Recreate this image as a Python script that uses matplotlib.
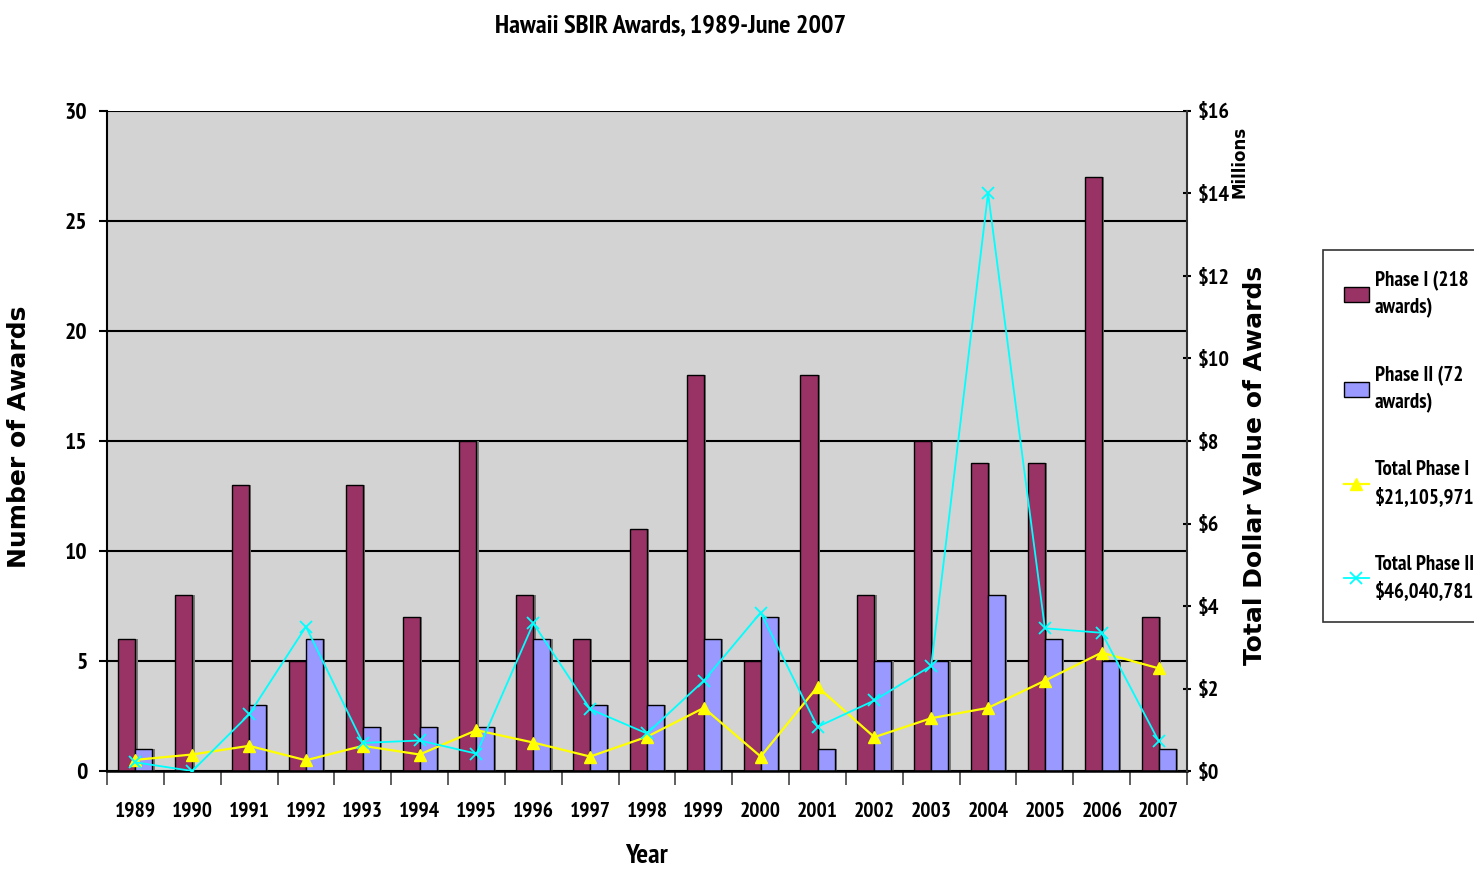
import matplotlib
matplotlib.use("Agg")
import matplotlib.pyplot as plt
import numpy as np
from matplotlib import font_manager

years = ["1989", "1990", "1991", "1992", "1993", "1994", "1995", "1996", "1997", "1998",
         "1999", "2000", "2001", "2002", "2003", "2004", "2005", "2006", "2007"]
phase1_awards = [6, 8, 13, 5, 13, 7, 15, 8, 6, 11, 18, 5, 18, 8, 15, 14, 14, 27, 7]
phase2_awards = [1, 0, 3, 6, 2, 2, 2, 6, 3, 3, 6, 7, 1, 5, 5, 8, 6, 5, 1]
phase1_dollars_m = [0.27, 0.40, 0.61, 0.26, 0.61, 0.40, 0.99, 0.69, 0.35, 0.83,
                    1.53, 0.35, 2.04, 0.82, 1.28, 1.53, 2.19, 2.87, 2.49]
phase2_dollars_m = [0.21, 0.0, 1.37, 3.50, 0.68, 0.74, 0.42, 3.58, 1.50, 0.91,
                    2.19, 3.84, 1.07, 1.71, 2.55, 14.01, 3.46, 3.35, 0.73]

fl = font_manager.fontManager.ttflist
bold_names = {f.name for f in fl if (isinstance(f.weight, int) and f.weight >= 700) or f.weight == "bold"}
all_names = {f.name for f in fl}
cands = ["Liberation Sans Narrow", "Arial Narrow", "PT Sans Narrow", "Pragati Narrow",
         "Archivo Narrow", "Roboto Condensed", "Fira Sans Condensed", "IBM Plex Sans Condensed",
         "Open Sans Condensed", "Encode Sans Condensed", "Barlow Semi Condensed",
         "Sofia Sans Semi Condensed"]
narrow = next((c for c in cands if c in bold_names), None)
if narrow is None:
    narrow = next((c for c in cands if c in all_names), "DejaVu Sans")
wide = "DejaVu Sans"

W, H = 1474, 871
fig = plt.figure(figsize=(W / 100, H / 100), dpi=100)
ax = fig.add_axes([107 / W, 1 - 771 / H, (1187 - 107) / W, (771 - 111) / H])
ax.set_facecolor("#D3D3D3")

x = np.arange(len(years))
bw = 0.3
c1 = "#993366"
c2 = "#9999FF"
# shadows
ax.bar(x - bw / 2 + 0.04, phase1_awards, bw, color="#7a7a7a", zorder=1.5)
ax.bar(x + bw / 2 + 0.04, phase2_awards, bw, color="#7a7a7a", zorder=1.5)
b1 = ax.bar(x - bw / 2, phase1_awards, bw, color=c1, edgecolor="black", linewidth=1.0, zorder=2,
            label="Phase I (218\nawards)")
b2 = ax.bar(x + bw / 2, phase2_awards, bw, color=c2, edgecolor="black", linewidth=1.0, zorder=2,
            label="Phase II (72\nawards)")

ax.set_xlim(-0.5, len(years) - 0.5)
ax.set_ylim(0, 30)
ax.set_yticks(range(0, 31, 5))
ax.yaxis.grid(True, color="black", linewidth=1.5)
ax.set_axisbelow(True)
ax.set_xticks(np.arange(-0.5, len(years), 1))
ax.set_xticklabels([])
ax.set_xticks(x, minor=True)
ax.set_xticklabels(years, minor=True, fontfamily=narrow, fontweight="bold", fontsize=15.5)
ax.tick_params(axis="x", which="major", length=10, width=1.2, direction="out", color="#444444")
ax.tick_params(axis="x", which="minor", length=0, pad=22)
ax.tick_params(axis="y", length=6, width=1.5, direction="out", pad=8)
for lab in ax.get_yticklabels():
    lab.set_fontfamily(narrow)
    lab.set_fontweight("bold")
    lab.set_fontsize(17)
for s in ["top", "right"]:
    ax.spines[s].set_visible(False)
ax.spines["left"].set_linewidth(1.5)
ax.spines["bottom"].set_linewidth(1.8)
ax.set_ylabel("Number of Awards", fontfamily=wide, fontweight="bold", fontsize=18)
ax.yaxis.set_label_coords((31 - 107) / 1080, (771 - 437) / 660)
ax.set_xlabel("Year", fontfamily=narrow, fontweight="bold", fontsize=20)
ax.xaxis.set_label_coords((646 - 107) / 1080, -(844 - 771) / 660)

ax2 = ax.twinx()
ax2.set_ylim(0, 16)
ax2.set_yticks(range(0, 17, 2))
ax2.set_yticklabels([f"${v}" for v in range(0, 17, 2)])
for lab in ax2.get_yticklabels():
    lab.set_fontfamily(narrow)
    lab.set_fontweight("bold")
    lab.set_fontsize(16)
ax2.tick_params(axis="y", length=6, width=1.5, direction="inout", pad=5)
for s in ["top", "left", "bottom"]:
    ax2.spines[s].set_visible(False)
ax2.spines["right"].set_linewidth(1.5)
ax2.spines["right"].set_color("#333333")
l1, = ax2.plot(x, phase1_dollars_m, color="#FFFF00", linewidth=1.6, marker="^", markersize=8,
               markerfacecolor="#FFFF00", markeredgecolor="#FFFF00", zorder=3,
               label="Total Phase I\n$21,105,971")
l2, = ax2.plot(x, phase2_dollars_m, color="#00FFFF", linewidth=1.3, marker="x", markersize=8,
               markeredgewidth=1.3, zorder=3, label="Total Phase II\n$46,040,781")
ax2.set_ylabel("Total Dollar Value of Awards", fontfamily=wide, fontweight="bold", fontsize=18)
ax2.yaxis.set_label_coords((1243 - 107) / 1080, (771 - 465) / 660)
fig.text(1239 / W, 1 - 162 / H, "Millions", rotation=90, ha="center", va="center",
         fontfamily=wide, fontweight="bold", fontsize=12)

fig.text(671 / W, 1 - 26 / H, "Hawaii SBIR Awards, 1989-June 2007", ha="center", va="center",
         fontfamily=narrow, fontweight="bold", fontsize=19)

leg = fig.legend(handles=[b1, b2, l1, l2], loc="upper left", bbox_to_anchor=(1323 / W, 1 - 250 / H),
                 borderaxespad=0, frameon=True, fancybox=False, edgecolor="black",
                 labelspacing=2.3, handlelength=1.2, handletextpad=0.3, borderpad=1.0,
                 prop={"family": narrow, "weight": "bold", "size": 15})
for t in leg.get_texts():
    t.set_linespacing(1.45)
leg.get_frame().set_linewidth(1.2)

fig.savefig("out.png", dpi=100, facecolor="white")
